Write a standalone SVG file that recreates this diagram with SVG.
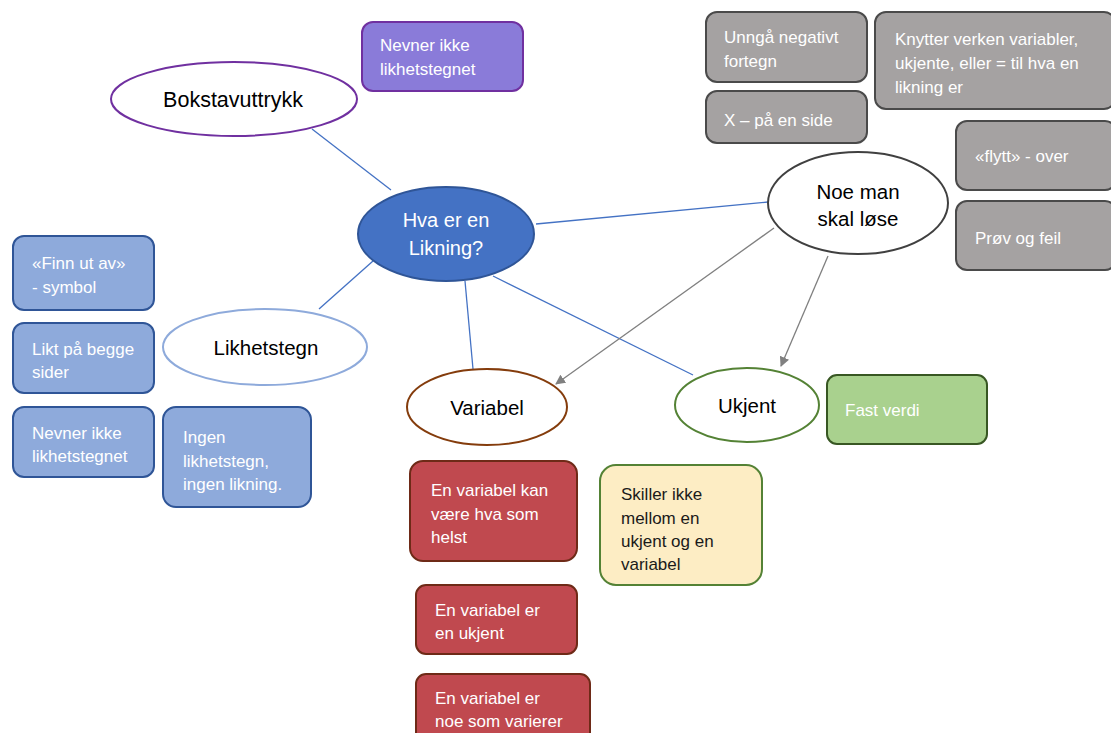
<svg xmlns="http://www.w3.org/2000/svg" width="1111" height="733" viewBox="0 0 1111 733">
<defs>
<style>
text{font-family:"Liberation Sans",Arial,sans-serif}
.lbl{font-size:20.5px;fill:#000;text-anchor:middle}
.bt{font-size:17px;fill:#fff}
.btd{font-size:17px;fill:#1a1a1a}
.gray rect{fill:#a5a2a2;stroke:#4a4a4a;stroke-width:2}
.blue rect{fill:#8eaadb;stroke:#2f5597;stroke-width:2}
.red rect{fill:#c0494f;stroke:#6e2a17;stroke-width:2}
.c-blue{stroke:#4472c4;stroke-width:1.3;fill:none}
.c-gray{stroke:#808080;stroke-width:1.3;fill:none}
</style>
<marker id="ah" viewBox="0 0 10 10" refX="9" refY="5" markerWidth="10" markerHeight="10" markerUnits="userSpaceOnUse" orient="auto">
<path d="M0,0 L10,5 L0,10 z" fill="#808080"/>
</marker>
</defs>
<rect width="1111" height="733" fill="#fff"/>
<g id="connectors">
<line class="c-blue" x1="312" y1="129" x2="391" y2="190"/>
<line class="c-blue" x1="373" y1="261" x2="319" y2="309"/>
<line class="c-blue" x1="536" y1="224" x2="768" y2="202"/>
<line class="c-blue" x1="465" y1="281" x2="473" y2="369"/>
<line class="c-blue" x1="493" y1="276" x2="693" y2="375"/>
<line class="c-gray" x1="774" y1="228" x2="556" y2="384" marker-end="url(#ah)"/>
<line class="c-gray" x1="828" y1="256" x2="781" y2="366" marker-end="url(#ah)"/>
</g>
<g id="bokstavuttrykk">
<ellipse cx="234" cy="99" rx="123" ry="37" fill="#fff" stroke="#7030a0" stroke-width="2"/>
<text class="lbl" x="233" y="107" style="font-size:21.5px">Bokstavuttrykk</text>
</g>
<g id="purple-nevner">
<rect x="362" y="22" width="161" height="69" rx="11" fill="#8a7bd9" stroke="#7030a0" stroke-width="2"/>
<text class="bt" x="380" y="51">Nevner ikke</text>
<text class="bt" x="380" y="75">likhetstegnet</text>
</g>
<g id="center">
<ellipse cx="446" cy="234" rx="88" ry="47" fill="#4472c4" stroke="#2f5597" stroke-width="2"/>
<text x="446" y="227" font-size="20" fill="#fff" text-anchor="middle">Hva er en</text>
<text x="446" y="255" font-size="20" fill="#fff" text-anchor="middle">Likning?</text>
</g>
<g id="noe-man">
<ellipse cx="858" cy="203" rx="90" ry="51" fill="#fff" stroke="#404040" stroke-width="2"/>
<text class="lbl" x="858" y="199">Noe man</text>
<text class="lbl" x="858" y="226">skal løse</text>
</g>
<g id="unnga" class="gray">
<rect x="706" y="12" width="161" height="70" rx="11"/>
<text class="bt" x="724" y="43">Unngå negativt</text>
<text class="bt" x="724" y="67">fortegn</text>
</g>
<g id="x-side" class="gray">
<rect x="706" y="91" width="161" height="52" rx="11"/>
<text class="bt" x="724" y="126">X – på en side</text>
</g>
<g id="knytter" class="gray">
<rect x="875" y="12" width="240" height="97" rx="11"/>
<text class="bt" x="895" y="45">Knytter verken variabler,</text>
<text class="bt" x="895" y="69">ukjente, eller = til hva en</text>
<text class="bt" x="895" y="93">likning er</text>
</g>
<g id="flytt" class="gray">
<rect x="956" y="121" width="160" height="69" rx="11"/>
<text class="bt" x="975" y="162">«flytt» - over</text>
</g>
<g id="prov" class="gray">
<rect x="956" y="201" width="160" height="69" rx="11"/>
<text class="bt" x="975" y="244">Prøv og feil</text>
</g>
<g id="finn" class="blue">
<rect x="13" y="236" width="141" height="74" rx="11"/>
<text class="bt" x="32" y="269">«Finn ut av»</text>
<text class="bt" x="32" y="293">- symbol</text>
</g>
<g id="likt" class="blue">
<rect x="13" y="323" width="141" height="70" rx="11"/>
<text class="bt" x="32" y="355">Likt på begge</text>
<text class="bt" x="32" y="378">sider</text>
</g>
<g id="nevner-blue" class="blue">
<rect x="13" y="407" width="141" height="70" rx="11"/>
<text class="bt" x="32" y="439">Nevner ikke</text>
<text class="bt" x="32" y="462">likhetstegnet</text>
</g>
<g id="ingen" class="blue">
<rect x="163" y="407" width="148" height="100" rx="13"/>
<text class="bt" x="183" y="443">Ingen</text>
<text class="bt" x="183" y="467">likhetstegn,</text>
<text class="bt" x="183" y="490">ingen likning.</text>
</g>
<g id="likhetstegn">
<ellipse cx="265" cy="347" rx="102" ry="38" fill="#fff" stroke="#8eaadb" stroke-width="2"/>
<text class="lbl" x="266" y="355">Likhetstegn</text>
</g>
<g id="variabel">
<ellipse cx="487" cy="407" rx="80" ry="38" fill="#fff" stroke="#843c0c" stroke-width="2"/>
<text class="lbl" x="487" y="415">Variabel</text>
</g>
<g id="ukjent">
<ellipse cx="747" cy="405" rx="72" ry="37" fill="#fff" stroke="#548235" stroke-width="2"/>
<text class="lbl" x="747" y="413">Ukjent</text>
</g>
<g id="fast-verdi">
<rect x="827" y="375" width="160" height="69" rx="10" fill="#a9d18e" stroke="#385723" stroke-width="2"/>
<text class="bt" x="845" y="416">Fast verdi</text>
</g>
<g id="var-kan" class="red">
<rect x="410" y="461" width="167" height="100" rx="13"/>
<text class="bt" x="431" y="496">En variabel kan</text>
<text class="bt" x="431" y="520">være hva som</text>
<text class="bt" x="431" y="543">helst</text>
</g>
<g id="var-ukjent" class="red">
<rect x="416" y="585" width="161" height="69" rx="10"/>
<text class="bt" x="435" y="616">En variabel er</text>
<text class="bt" x="435" y="639">en ukjent</text>
</g>
<g id="var-varierer" class="red">
<rect x="416" y="674" width="174" height="80" rx="10"/>
<text class="bt" x="435" y="704">En variabel er</text>
<text class="bt" x="435" y="727">noe som varierer</text>
</g>
<g id="skiller">
<rect x="600" y="465" width="162" height="120" rx="16" fill="#fdedc4" stroke="#548235" stroke-width="2"/>
<text class="btd" x="621" y="500">Skiller ikke</text>
<text class="btd" x="621" y="524">mellom en</text>
<text class="btd" x="621" y="547">ukjent og en</text>
<text class="btd" x="621" y="570">variabel</text>
</g>
</svg>
